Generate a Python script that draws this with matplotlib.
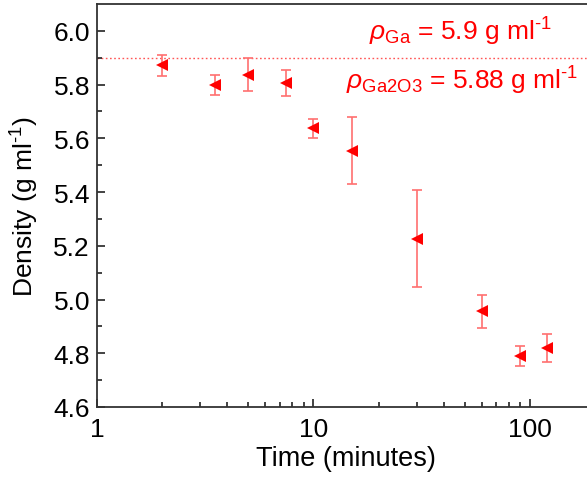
import matplotlib
matplotlib.use("Agg")
import matplotlib.pyplot as plt
from matplotlib.ticker import FixedLocator, LogLocator, NullFormatter, FixedFormatter

plt.rcParams['font.family'] = ['Liberation Sans', 'DejaVu Sans']
plt.rcParams['mathtext.fontset'] = 'custom'
plt.rcParams['mathtext.rm'] = 'Liberation Sans'
plt.rcParams['mathtext.it'] = 'Liberation Sans:italic'

time_min = [2, 3.5, 5, 7.5, 10, 15, 30, 60, 90, 120]
density = [5.872, 5.800, 5.837, 5.806, 5.637, 5.554, 5.226, 4.956, 4.790, 4.819]
density_err = [0.040, 0.037, 0.062, 0.048, 0.035, 0.125, 0.180, 0.061, 0.038, 0.053]
rho_ga = 5.9
x_ticks = [1, 10, 100]
x_ticklabels = ["1", "10", "100"]
y_ticks = [4.6, 4.8, 5.0, 5.2, 5.4, 5.6, 5.8, 6.0]

FS = 19

fig = plt.figure(figsize=(5.87, 4.81), dpi=100)
ax = fig.add_axes([97/587, 73/481, 498/587, 403/481])

ax.axhline(rho_ga, color='#ff5555', linestyle=(0, (1.2, 1.8)), linewidth=1.0, zorder=1)
ax.errorbar(time_min, density, yerr=density_err, fmt='none', ecolor='#ff7070',
            elinewidth=1.2, capsize=3.5, capthick=1.2, zorder=2)
ax.plot(time_min, density, linestyle='none', marker='<', markersize=8.5,
        color='#ff0000', markeredgewidth=0, zorder=3)

ax.set_xscale('log')
ax.set_xlim(1, 200)
ax.set_ylim(4.6, 6.1)
ax.xaxis.set_major_locator(FixedLocator(x_ticks))
ax.xaxis.set_major_formatter(FixedFormatter(x_ticklabels))
ax.xaxis.set_minor_locator(LogLocator(base=10, subs=range(2, 10)))
ax.xaxis.set_minor_formatter(NullFormatter())
ax.set_yticks(y_ticks)
ax.set_yticklabels([f"{v:.1f}" for v in y_ticks])
ax.yaxis.set_minor_locator(FixedLocator([4.7, 4.9, 5.1, 5.3, 5.5, 5.7, 5.9]))

ax.tick_params(which='both', direction='in', top=False, right=False, labelsize=FS,
               color='#222222', width=1.2)
ax.tick_params(which='major', length=6, pad=5)
ax.tick_params(axis='x', which='major', pad=7)
ax.tick_params(which='minor', length=3.5)
for s in ax.spines.values():
    s.set_color('#333333')
    s.set_linewidth(1.3)

ax.set_xlabel("Time (minutes)", fontsize=FS + 0.5, labelpad=3)
ax.set_ylabel(r"Density (g ml$^{\text{-1}}$)", fontsize=FS, labelpad=9)

ax.text(552/587, 1 - 41/481, r"$\rho_{\text{Ga}}$ = 5.9 g ml$^{\text{-1}}$", color='#ff0000',
        fontsize=FS, transform=fig.transFigure, ha='right', va='baseline')
ax.text(578/587, 1 - 90/481, r"$\rho_{\text{Ga2O3}}$ = 5.88 g ml$^{\text{-1}}$", color='#ff0000',
        fontsize=FS, transform=fig.transFigure, ha='right', va='baseline')

fig.savefig("out.png", dpi=100)
